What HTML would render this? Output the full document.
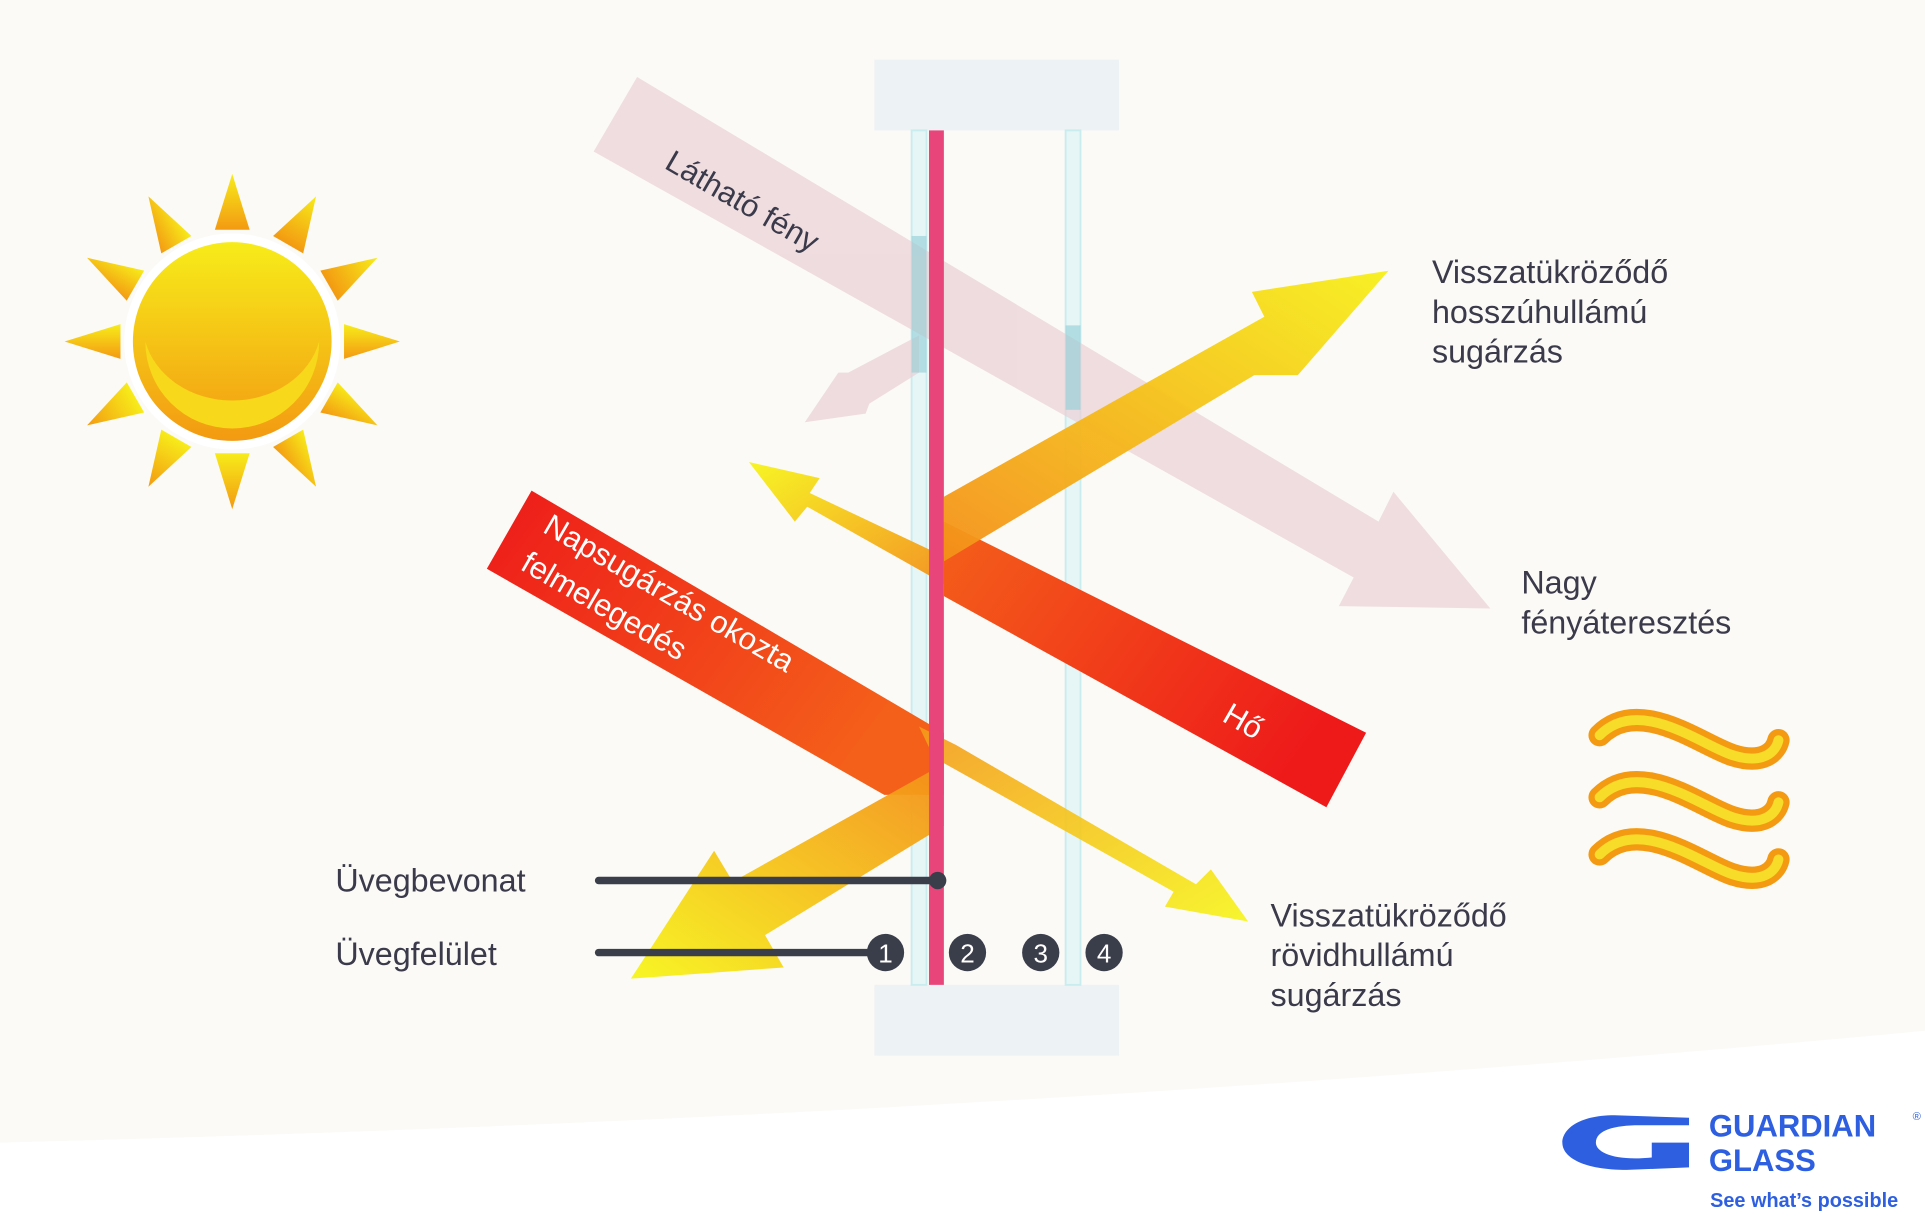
<!DOCTYPE html>
<html><head><meta charset="utf-8"><style>
html,body{margin:0;padding:0;background:#fbfaf6;}
svg{display:block}
text{font-family:"Liberation Sans",sans-serif;}
</style></head><body>
<svg width="1925" height="1232" viewBox="0 0 1550 992" xmlns="http://www.w3.org/2000/svg">
<defs>
<linearGradient id="sun" x1="0" y1="0" x2="0" y2="1"><stop offset="0" stop-color="#f7ec1a"/><stop offset="1" stop-color="#f39a12"/></linearGradient>
<linearGradient id="red1" x1="0" y1="0" x2="1" y2="0.5"><stop offset="0" stop-color="#ee1a1a"/><stop offset="1" stop-color="#f4601a"/></linearGradient>
<linearGradient id="red2" x1="0" y1="0" x2="1" y2="0.5"><stop offset="0" stop-color="#f4601a"/><stop offset="1" stop-color="#ee1a1a"/></linearGradient>
<linearGradient id="yo1" x1="0" y1="1" x2="1" y2="0"><stop offset="0" stop-color="#f4901a"/><stop offset="1" stop-color="#f7f01a"/></linearGradient>
<linearGradient id="yo2" x1="1" y1="0" x2="0" y2="1"><stop offset="0" stop-color="#f4901a"/><stop offset="1" stop-color="#f7f51a"/></linearGradient>
<linearGradient id="yo3" x1="1" y1="1" x2="0" y2="0"><stop offset="0" stop-color="#f4901a"/><stop offset="1" stop-color="#f7f51a"/></linearGradient>
<linearGradient id="yo4" x1="0" y1="0" x2="1" y2="1"><stop offset="0" stop-color="#f49a1a"/><stop offset="1" stop-color="#f7f51a"/></linearGradient>
</defs>
<rect width="1550" height="992" fill="#fbfaf6"/>
<path d="M0 920 Q800 900 1550 830 L1550 992 L0 992Z" fill="#ffffff"/>
<rect x="704" y="48" width="197" height="57" fill="#edf2f5"/>
<rect x="704" y="793" width="197" height="57" fill="#edf2f5"/>
<rect x="734" y="105" width="12" height="688" fill="#e6f6f7" stroke="#c9ecef" stroke-width="1.5"/>
<rect x="858" y="105" width="12" height="688" fill="#e6f6f7" stroke="#c9ecef" stroke-width="1.5"/>
<g fill="#ead0d5" opacity="0.7">
<polygon points="513,62 478,122 1090,465 1078,488 1200,490 1122,396 1110,420"/>
<polygon points="740,270 740,300 700,325 697,333 648,340 675,300 683,300"/>
</g>
<rect x="734" y="190" width="12" height="110" fill="#8fcdd6" opacity="0.6"/>
<rect x="858" y="262" width="12" height="68" fill="#8fcdd6" opacity="0.6"/>
<polygon points="428,395 392,458 712,640 760,640 760,590" fill="url(#red1)"/>
<polygon points="740,585 752,610 945,718 938,730 1005,742 975,700 963,712 770,600" fill="url(#yo4)" opacity="0.9"/>
<polygon points="760,420 1100,590 1068,650 760,480" fill="url(#red2)"/>
<polygon points="760,448 760,470 650,408 640,420 603,372 660,385 652,397" fill="url(#yo3)" opacity="0.95"/>
<polygon points="760,400 760,452 1010,302 1045,302 1118,218 1008,235 1018,255 760,400" fill="url(#yo1)" opacity="0.95"/>
<polygon points="760,615 760,665 616,753 631,779 508,788 575,685 590,710" fill="url(#yo2)" opacity="0.95"/>
<rect x="748" y="105" width="12" height="688" fill="#e8457a"/>
<text transform="translate(436,428) rotate(30)" font-size="25" fill="#fff">Napsugárzás okozta</text>
<text transform="translate(418,458) rotate(30)" font-size="25" fill="#fff">felmelegedés</text>
<text transform="translate(983,580) rotate(30)" font-size="25" fill="#fff">Hő</text>
<text transform="translate(534,135) rotate(30)" font-size="25" fill="#3a3a4a">Látható fény</text>
<line x1="482" y1="709" x2="755" y2="709" stroke="#3a3d4a" stroke-width="6" stroke-linecap="round"/>
<circle cx="755" cy="709" r="7" fill="#3a3d4a"/>
<line x1="482" y1="767" x2="700" y2="767" stroke="#3a3d4a" stroke-width="6" stroke-linecap="round"/>
<g fill="#3a3d4a"><circle cx="713" cy="767" r="15"/><circle cx="779" cy="767" r="15"/><circle cx="838" cy="767" r="15"/><circle cx="889" cy="767" r="15"/></g>
<g fill="#fff" font-size="21" text-anchor="middle"><text x="713" y="775">1</text><text x="779" y="775">2</text><text x="838" y="775">3</text><text x="889" y="775">4</text></g>
<g font-size="26" fill="#3a3a4a">
<text x="270" y="718">Üvegbevonat</text>
<text x="270" y="777">Üvegfelület</text>
<text x="1153" y="228">Visszatükröződő</text>
<text x="1153" y="260">hosszúhullámú</text>
<text x="1153" y="292">sugárzás</text>
<text x="1225" y="478">Nagy</text>
<text x="1225" y="510">fényáteresztés</text>
<text x="1023" y="746">Visszatükröződő</text>
<text x="1023" y="778">rövidhullámú</text>
<text x="1023" y="810">sugárzás</text>
</g>
<g transform="translate(187,275)">
<g fill="url(#sun)">
<polygon points="-14,-90 14,-90 0,-135"/>
<polygon points="-14,90 14,90 0,135"/>
<polygon points="-90,-14 -90,14 -135,0"/>
<polygon points="90,-14 90,14 135,0"/>
<g transform="rotate(30)"><polygon points="-14,-90 14,-90 0,-135"/><polygon points="-14,90 14,90 0,135"/><polygon points="-90,-14 -90,14 -135,0"/><polygon points="90,-14 90,14 135,0"/></g>
<g transform="rotate(60)"><polygon points="-14,-90 14,-90 0,-135"/><polygon points="-14,90 14,90 0,135"/><polygon points="-90,-14 -90,14 -135,0"/><polygon points="90,-14 90,14 135,0"/></g>
</g>
<circle r="87" fill="#fff"/>
<circle r="80" fill="url(#sun)"/>
<path d="M-70,0 A70,70 0 0 0 70,0 A72,62 0 0 1 -70,0Z" fill="#f8d81a"/>
</g>
<g fill="none" stroke-linecap="round">
<g stroke="#f39a12" stroke-width="18"><path d="M1288,592 C1320,560 1370,600 1395,608 C1420,616 1430,605 1432,596"/><path d="M1288,642 C1320,610 1370,650 1395,658 C1420,666 1430,655 1432,646"/><path d="M1288,688 C1320,656 1370,696 1395,704 C1420,712 1430,701 1432,692"/></g>
<g stroke="#f7dc2a" stroke-width="8"><path d="M1288,592 C1320,560 1370,600 1395,608 C1420,616 1430,605 1432,596"/><path d="M1288,642 C1320,610 1370,650 1395,658 C1420,666 1430,655 1432,646"/><path d="M1288,688 C1320,656 1370,696 1395,704 C1420,712 1430,701 1432,692"/></g>
</g>
<g fill="#2d5fe0">
<path d="M1360,900 L1300,898 C1270,898 1258,910 1258,920 C1258,932 1275,942 1310,942 L1360,940 L1360,920 L1330,920 L1330,932 C1300,935 1285,928 1285,920 C1285,910 1300,906 1320,906 L1360,906Z"/>
<text x="1376" y="915" font-size="25" font-weight="bold">GUARDIAN</text>
<text x="1540" y="902" font-size="9">®</text>
<text x="1376" y="943" font-size="25" font-weight="bold">GLASS</text>
<text x="1377" y="972" font-size="16" font-weight="bold" font-family="Liberation Serif,serif">See what’s possible</text>
</g>
</svg>
</body></html>
